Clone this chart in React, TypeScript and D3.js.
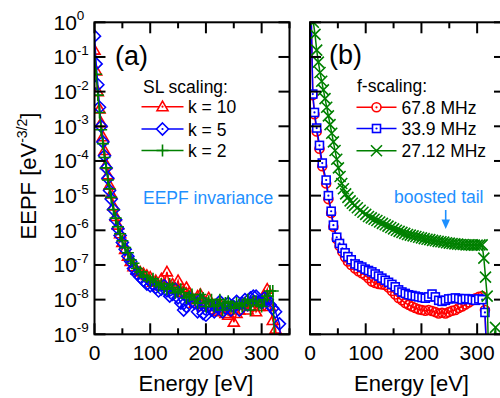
import React from "react";
import * as d3 from "d3";

// ---------- Panel (a): SL scaling ----------
const energyA = [0, 3, 6, 9, 12, 15, 18, 21, 24, 27, 30, 34, 38, 42, 46, 50, 55, 60, 65, 70, 76, 82, 88, 94,
  100, 105, 110, 115, 120, 125, 130, 135, 140, 145, 150, 155, 160, 165, 170, 175, 180, 185, 190, 195, 200, 205, 210, 215, 220, 225, 230, 235, 240, 245, 250, 255, 260, 265, 270, 275, 280, 285, 290, 295, 300, 305, 310, 315,
  320, 325, 332, 338];
const eepfK10 = [1.58e-1, 3.98e-2, 1e-2, 3.16e-3, 1.26e-3, 5.01e-4, 2.0e-4, 7.94e-5, 3.98e-5, 2.0e-5, 1.12e-5, 5.01e-6, 2.51e-6, 1.41e-6, 7.94e-7, 4.47e-7, 2.82e-7, 1.78e-7, 1.26e-7, 8.91e-8, 7.08e-8, 6.31e-8, 5.62e-8, 5.01e-8,
  4.47e-8, 3.16e-8, 3.55e-8, 2.51e-8, 3.98e-8, 2.82e-8, 6.31e-8, 2.51e-8, 2.82e-8, 2.0e-8, 3.55e-8, 1.58e-8, 1.78e-8, 2.24e-8, 1.58e-8, 1e-8, 7.94e-9, 1.26e-8, 1.41e-8, 6.31e-9, 7.94e-9, 1.12e-8, 6.31e-9, 5.01e-9, 4.47e-9, 7.94e-9, 5.62e-9, 3.98e-9, 3.55e-9, 6.31e-9, 2.24e-9, 3.98e-9, 5.01e-9, 7.08e-9, 7.94e-9, 5.01e-9, 6.31e-9, 8.91e-9, 4.47e-9, 6.31e-9, 8.91e-9, 1.26e-8, 2.0e-8, 6.31e-9,
  2.51e-9, 1.41e-9, 1e-10, 1e-10];
const eepfK5 = [3.98e-1, 6.31e-2, 1.58e-2, 3.55e-3, 1e-3, 3.55e-4, 1.41e-4, 6.31e-5, 3.16e-5, 1.41e-5, 7.94e-6, 3.98e-6, 2.0e-6, 1.12e-6, 7.08e-7, 4.47e-7, 2.82e-7, 1.78e-7, 1.26e-7, 7.94e-8, 5.62e-8, 4.47e-8, 3.55e-8, 2.82e-8,
  2.51e-8, 2.82e-8, 2.24e-8, 1.78e-8, 2.0e-8, 2.51e-8, 1.78e-8, 1.26e-8, 1.41e-8, 2.0e-8, 1.12e-8, 7.94e-9, 5.01e-9, 6.31e-9, 1.12e-8, 8.91e-9, 7.94e-9, 4.47e-9, 1e-8, 3.98e-9, 3.55e-9, 6.31e-9, 5.01e-9, 4.47e-9, 6.31e-9, 8.91e-9, 4.47e-9, 5.62e-9, 7.94e-9, 5.01e-9, 6.31e-9, 8.91e-9, 5.01e-9, 7.94e-9, 1e-8, 7.08e-9, 1.12e-8, 1.26e-8, 1.26e-8, 8.91e-9, 7.94e-9, 1.12e-8, 1e-8, 7.08e-9,
  5.62e-9, 4.47e-9, 2.0e-9, 1e-10];
const eepfK2 = [1e-1, 3.16e-2, 7.94e-3, 2.51e-3, 7.94e-4, 3.16e-4, 1.26e-4, 6.31e-5, 2.82e-5, 1.58e-5, 8.91e-6, 3.98e-6, 2.24e-6, 1.26e-6, 7.94e-7, 5.01e-7, 3.16e-7, 2.24e-7, 1.41e-7, 1.12e-7, 7.94e-8, 6.31e-8, 5.01e-8, 4.47e-8,
  3.55e-8, 3.98e-8, 3.16e-8, 2.51e-8, 2.82e-8, 2.24e-8, 2.0e-8, 2.82e-8, 2.24e-8, 1.58e-8, 1.78e-8, 2.0e-8, 1.58e-8, 1.12e-8, 1.26e-8, 1.41e-8, 1e-8, 7.94e-9, 1.41e-8, 1.12e-8, 6.31e-9, 8.91e-9, 1e-8, 6.31e-9, 7.08e-9, 1e-8, 5.01e-9, 7.94e-9, 8.91e-9, 6.31e-9, 5.62e-9, 7.94e-9, 7.08e-9, 6.31e-9, 7.94e-9, 1e-8, 5.01e-9, 8.91e-9, 8.91e-9, 7.08e-9, 6.31e-9, 1e-8, 1.26e-8, 1.78e-8,
  1.78e-8, 1e-10, 1e-10, 1e-10];

// ---------- Panel (b): f-scaling ----------
const energyF = [2, 5, 8, 12, 17, 22, 29, 33, 38, 42, 48, 53, 58, 63, 68, 74, 81, 87, 93, 99, 105, 111, 117, 123, 129, 135, 141, 147, 153, 159, 165, 171, 177, 183, 189, 195, 201, 207, 213, 219, 225, 231, 237, 243, 249, 255, 261, 267, 273, 279, 285, 291, 297, 303, 309, 314, 318];
const eepf678 = [2.0, 7.94e-3, 2.24e-3, 7.08e-4, 2.24e-4, 7.08e-5, 2.24e-5, 7.94e-6, 3.16e-6, 1.26e-6, 5.62e-7, 3.55e-7, 2.4e-7, 1.66e-7, 1.26e-7, 1e-7, 7.94e-8, 6.61e-8, 5.75e-8, 5.01e-8, 4.17e-8, 3.31e-8, 3.02e-8, 2.82e-8, 2.75e-8, 2.63e-8, 2.24e-8, 1.78e-8, 1.41e-8, 1.12e-8, 9.55e-9, 7.94e-9, 7.08e-9, 6.31e-9, 5.75e-9, 5.25e-9, 5.01e-9, 4.79e-9, 5.01e-9, 4.68e-9, 4.37e-9, 3.98e-9, 4.17e-9, 3.98e-9, 4.37e-9, 4.79e-9, 5.01e-9, 5.75e-9, 6.31e-9, 7.24e-9, 8.32e-9, 9.55e-9, 1.1e-8, 1.2e-8, 1.26e-8, 5.01e-9, 1e-10];
const eepf339 = [2.0, 8.51e-3, 2.51e-3, 8.91e-4, 2.82e-4, 8.71e-5, 2.82e-5, 1e-5, 3.55e-6, 1.41e-6, 6.31e-7, 4.17e-7, 3.02e-7, 2.24e-7, 1.74e-7, 1.41e-7, 1.07e-7, 9.55e-8, 8.71e-8, 7.59e-8, 6.92e-8, 6.31e-8, 5.5e-8, 4.79e-8, 4.17e-8, 3.63e-8, 3.16e-8, 2.75e-8, 2.34e-8, 1.91e-8, 1.66e-8, 1.51e-8, 1.38e-8, 1.32e-8, 1.26e-8, 1.2e-8, 1.15e-8, 1.1e-8, 1.2e-8, 1.45e-8, 1.2e-8, 9.55e-9, 8.91e-9, 9.55e-9, 1.05e-8, 1.07e-8, 1.12e-8, 1.07e-8, 1e-8, 1.07e-8, 1.05e-8, 1e-8, 9.55e-9, 1.05e-8, 1e-8, 4.27e-9, 1e-10];
const energyG = [3, 6, 9, 12, 15, 18, 21, 24, 27, 30, 33, 36, 39, 42, 45, 48, 51, 54, 57, 60, 64, 68, 72, 76, 80, 85, 90, 95, 100, 105, 110, 115, 120, 125, 130, 135, 140, 145, 150, 155, 160, 165, 170, 175, 180, 185, 190, 195, 200, 205, 210, 215, 220, 225, 230, 235, 240, 245, 250, 255, 260, 265, 270, 275, 280, 285, 290, 295, 300, 305, 309, 312, 315, 318, 321, 333, 337];
const eepf2712 = [4.0, 1.0, 4.47e-1, 1.58e-1, 7.08e-2, 3.55e-2, 2.0e-2, 1.12e-2, 6.31e-3, 3.55e-3, 2.0e-3, 1.12e-3, 6.31e-4, 3.55e-4, 2.0e-4, 1.12e-4, 6.31e-5, 3.55e-5, 2.24e-5, 1.58e-5, 1.12e-5, 8.91e-6, 7.08e-6, 6.03e-6, 5.25e-6, 4.47e-6, 3.8e-6, 3.31e-6, 2.88e-6, 2.51e-6, 2.29e-6, 2.09e-6, 1.91e-6, 1.74e-6, 1.58e-6, 1.45e-6, 1.32e-6, 1.2e-6, 1.1e-6, 1e-6, 9.33e-7, 8.71e-7, 8.13e-7, 7.59e-7, 7.24e-7, 6.92e-7, 6.61e-7, 6.31e-7, 6.03e-7, 5.75e-7, 5.5e-7, 5.37e-7, 5.13e-7, 5.01e-7, 4.79e-7, 4.68e-7, 4.57e-7, 4.37e-7, 4.27e-7, 4.17e-7, 4.07e-7, 3.98e-7, 3.89e-7, 3.89e-7, 3.8e-7, 3.8e-7, 3.72e-7, 3.72e-7, 3.72e-7, 3.8e-7, 3.8e-7, 1.58e-7, 4.47e-8, 1.26e-8, 1e-10, 1.58e-9, 1e-10];

const yTickExps = ["0", "-1", "-2", "-3", "-4", "-5", "-6", "-7", "-8", "-9"];
const yTickValues = [1, 1e-1, 1e-2, 1e-3, 1e-4, 1e-5, 1e-6, 1e-7, 1e-8, 1e-9];
const xMajorTicks = [0, 100, 200, 300];
const xMinorTicks = [50, 150, 250, 350];
const legendA = ["k = 10", "k = 5", "k = 2"];
const legendB = ["67.8 MHz", "33.9 MHz", "27.12 MHz"];

const FONT = "Arial, 'Liberation Sans', Helvetica, sans-serif";
const RED = "#ff0000";
const BLUE = "#0000ff";
const GREEN = "#008000";
const ANNO = "#1e90ff";

const TOP = 22.3;
const BOTTOM = 334.3;

const y = d3.scaleLog().domain([1e-9, 1]).range([BOTTOM, TOP]);
const xA = d3.scaleLinear().domain([0, 350]).range([94.5, 289.5]);
const xB = d3.scaleLinear().domain([0, 350]).range([310, 505]);

type MarkerKind = "tri" | "diamond" | "plus" | "circle" | "square" | "x";

function Marker({ kind, cx, cy, color, dot, fill }: { kind: MarkerKind; cx: number; cy: number; color: string; dot?: boolean; fill?: string }) {
  const sw = 1.6;
  const f = fill || "none";
  let shape: React.ReactNode = null;
  if (kind === "tri") shape = <path d={`M${cx},${cy - 5.5}L${cx + 5.5},${cy + 4}L${cx - 5.5},${cy + 4}Z`} fill={f} stroke={color} strokeWidth={sw} />;
  if (kind === "diamond") shape = <path d={`M${cx},${cy - 6}L${cx + 6},${cy}L${cx},${cy + 6}L${cx - 6},${cy}Z`} fill={f} stroke={color} strokeWidth={sw} />;
  if (kind === "plus") shape = <path d={`M${cx - 6},${cy}H${cx + 6}M${cx},${cy - 6}V${cy + 6}`} fill="none" stroke={color} strokeWidth={sw} />;
  if (kind === "circle") shape = <circle cx={cx} cy={cy} r={4.5} fill={f} stroke={color} strokeWidth={sw} />;
  if (kind === "square") shape = <rect x={cx - 4} y={cy - 4} width={8} height={8} fill={f} stroke={color} strokeWidth={sw} />;
  if (kind === "x") shape = <path d={`M${cx - 5.5},${cy - 5.5}L${cx + 5.5},${cy + 5.5}M${cx - 5.5},${cy + 5.5}L${cx + 5.5},${cy - 5.5}`} fill="none" stroke={color} strokeWidth={sw} />;
  return (
    <g>
      {shape}
      {dot ? <circle cx={cx} cy={cy} r={1.1} fill={color} /> : null}
    </g>
  );
}

function Series({ xs, vals, xScale, color, kind, dot, fill }: { xs: number[]; vals: number[]; xScale: d3.ScaleLinear<number, number>; color: string; kind: MarkerKind; dot?: boolean; fill?: string }) {
  const pts: [number, number][] = xs.map((e, i) => [xScale(e), y(vals[i])]);
  const line = d3.line()(pts) || "";
  return (
    <g>
      <path d={line} fill="none" stroke={color} strokeWidth={1.5} />
      {pts.map((p, i) => (
        <Marker key={i} kind={kind} cx={p[0]} cy={p[1]} color={color} dot={dot} fill={fill} />
      ))}
    </g>
  );
}

function Frame({ xScale, showYLabels, id }: { xScale: d3.ScaleLinear<number, number>; showYLabels: boolean; id: string }) {
  const [x0, x1] = xScale.range();
  return (
    <g>
      {yTickValues.map((v, i) => (
        <g key={"y" + i}>
          <line x1={x0} x2={x0 + 11} y1={y(v)} y2={y(v)} stroke="#000" strokeWidth={2} />
          <line x1={x1} x2={x1 - 11} y1={y(v)} y2={y(v)} stroke="#000" strokeWidth={2} />
          {showYLabels ? (
            <text x={53.5} y={y(v) + 7.5} fontSize={21} fontFamily={FONT}>
              10<tspan dy={-9.5} fontSize={13.5}>{yTickExps[i]}</tspan>
            </text>
          ) : null}
        </g>
      ))}
      {xMajorTicks.map((t) => (
        <g key={id + "M" + t}>
          <line x1={xScale(t)} x2={xScale(t)} y1={BOTTOM} y2={BOTTOM - 11} stroke="#000" strokeWidth={2} />
          <line x1={xScale(t)} x2={xScale(t)} y1={TOP} y2={TOP + 11} stroke="#000" strokeWidth={2} />
          <text x={xScale(t)} y={360} fontSize={21} fontFamily={FONT} textAnchor="middle">{String(t)}</text>
        </g>
      ))}
      {xMinorTicks.map((t) => (
        <g key={id + "m" + t}>
          <line x1={xScale(t)} x2={xScale(t)} y1={BOTTOM} y2={BOTTOM - 6} stroke="#000" strokeWidth={2} />
          <line x1={xScale(t)} x2={xScale(t)} y1={TOP} y2={TOP + 6} stroke="#000" strokeWidth={2} />
        </g>
      ))}
      <rect x={x0} y={TOP} width={x1 - x0} height={BOTTOM - TOP} fill="none" stroke="#000" strokeWidth={2} />
      <text x={(x0 + x1) / 2 + 4} y={391} fontSize={22} fontFamily={FONT} textAnchor="middle">Energy [eV]</text>
    </g>
  );
}

function LegendRow({ x0, x1, cy, tx, label, color, kind, fill }: { x0: number; x1: number; cy: number; tx: number; label: string; color: string; kind: MarkerKind; fill?: string }) {
  return (
    <g>
      <line x1={x0} x2={x1} y1={cy} y2={cy} stroke={color} strokeWidth={1.6} />
      <Marker kind={kind} cx={(x0 + x1) / 2} cy={cy} color={color} dot fill={fill || "#fff"} />
      <text x={tx} y={cy + 6.5} fontSize={17.5} fontFamily={FONT}>{label}</text>
    </g>
  );
}

export default function App() {
  const [a0, a1] = xA.range();
  const [b0, b1] = xB.range();
  return (
    <svg width={500} height={398} style={{ position: "absolute", left: 0, top: 0, background: "#fff" }}>
      <defs>
        <clipPath id="clipA"><rect x={a0} y={TOP} width={a1 - a0} height={BOTTOM - TOP} /></clipPath>
        <clipPath id="clipB"><rect x={b0} y={TOP} width={b1 - b0} height={BOTTOM - TOP} /></clipPath>
      </defs>
      <rect x={0} y={0} width={500} height={398} fill="#fff" />

      {/* Panel (a) */}
      <g clipPath="url(#clipA)">
        <Series xs={energyA} vals={eepfK10} xScale={xA} color={RED} kind="tri" />
        <Series xs={energyA} vals={eepfK5} xScale={xA} color={BLUE} kind="diamond" />
        <Series xs={energyA} vals={eepfK2} xScale={xA} color={GREEN} kind="plus" />
      </g>
      <Frame xScale={xA} showYLabels={true} id="a" />

      {/* Panel (b) */}
      <g clipPath="url(#clipB)">
        <Series xs={energyF} vals={eepf678} xScale={xB} color={RED} kind="circle" />
        <Series xs={energyF} vals={eepf339} xScale={xB} color={BLUE} kind="square" dot fill="#fff" />
        <Series xs={energyG} vals={eepf2712} xScale={xB} color={GREEN} kind="x" />
      </g>
      <Frame xScale={xB} showYLabels={false} id="b" />

      {/* Y axis title */}
      <text transform="translate(36,176) rotate(-90)" fontSize={22} fontFamily={FONT} textAnchor="middle">
        EEPF [eV<tspan dy={-9} fontSize={14}>-3/2</tspan><tspan dy={9}>]</tspan>
      </text>

      {/* Panel labels */}
      <text x={115} y={65} fontSize={27} fontFamily={FONT}>(a)</text>
      <text x={329} y={64} fontSize={27} fontFamily={FONT}>(b)</text>

      {/* Legend (a) */}
      <text x={143} y={93} fontSize={17.5} fontFamily={FONT}>SL scaling:</text>
      <LegendRow x0={141.5} x1={183.5} cy={106.7} tx={188} label={legendA[0]} color={RED} kind="tri" />
      <LegendRow x0={141.5} x1={183.5} cy={129} tx={188} label={legendA[1]} color={BLUE} kind="diamond" />
      <LegendRow x0={141.5} x1={183.5} cy={150.5} tx={188} label={legendA[2]} color={GREEN} kind="plus" />

      {/* Legend (b) */}
      <text x={357} y={92} fontSize={17.5} fontFamily={FONT}>f-scaling:</text>
      <LegendRow x0={356.5} x1={396.5} cy={107.3} tx={401.5} label={legendB[0]} color={RED} kind="circle" />
      <LegendRow x0={356.5} x1={396.5} cy={128.5} tx={401.5} label={legendB[1]} color={BLUE} kind="square" />
      <LegendRow x0={356.5} x1={396.5} cy={150.7} tx={401.5} label={legendB[2]} color={GREEN} kind="x" />

      {/* Annotations */}
      <text x={143} y={204} fontSize={17.5} fontFamily={FONT} fill={ANNO}>EEPF invariance</text>
      <text x={394} y={203} fontSize={17.5} fontFamily={FONT} fill={ANNO}>boosted tail</text>
      <line x1={445.7} x2={445.7} y1={210} y2={221} stroke={ANNO} strokeWidth={1.6} />
      <path d="M441.5,219.5L450,219.5L445.7,229Z" fill={ANNO} />
    </svg>
  );
}
